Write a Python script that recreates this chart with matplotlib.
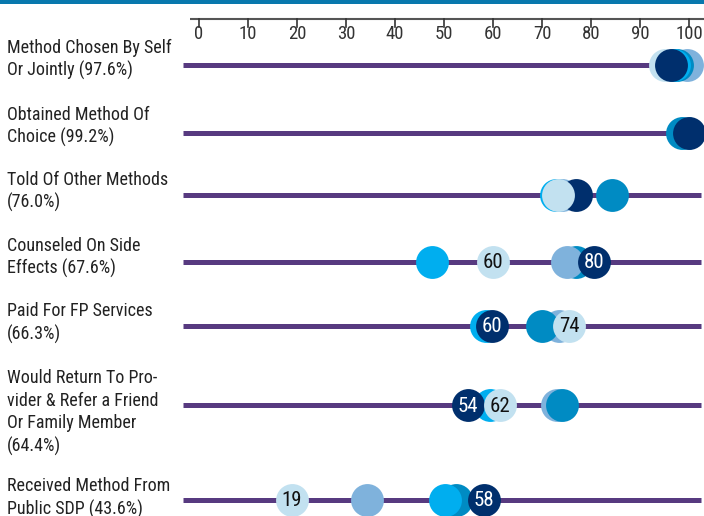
import numpy as np
import matplotlib.pyplot as plt

rows = ['Method Chosen By Self\nOr Jointly (97.6%)',
        'Obtained Method Of\nChoice (99.2%)',
        'Told Of Other Methods\n(76.0%)',
        'Counseled On Side\nEffects (67.6%)',
        'Paid For FP Services\n(66.3%)',
        'Would Return To Pro-\nvider & Refer a Friend\nOr Family Member\n(64.4%)',
        'Received Method From\nPublic SDP (43.6%)']

light = [95.0, 99.0, 73.3, 60.0, 75.5, 61.5, 19.0]
sky = [97.0, 99.5, 72.8, 47.5, 58.6, 59.3, 50.2]
medium = [97.5, 98.6, 84.3, 77.0, 70.0, 74.0, 52.5]
steel = [99.6, 99.3, 74.0, 75.0, 73.5, 73.0, 34.3]
navy = [96.3, 100.0, 77.0, 80.7, 59.8, 54.8, 58.2]

light_lbl = [None, None, None, '60', '74', '62', '19']
navy_lbl = [None, None, None, '80', '60', '54', '58']

ticks = np.arange(0, 101, 10)

# layout (pixel rows)
row_y = [65, 133, 195, 262, 326, 405, 500]
text_y = [59.5, 126.5, 191.5, 257.5, 323, 412.5, 498]
order = [['steel', 'medium', 'sky', 'light', 'navy'],
         ['steel', 'sky', 'light', 'medium', 'navy'],
         ['steel', 'sky', 'navy', 'light', 'medium'],
         ['sky', 'medium', 'steel', 'navy', 'light'],
         ['steel', 'sky', 'navy', 'medium', 'light'],
         ['steel', 'medium', 'sky', 'navy', 'light'],
         ['medium', 'steel', 'sky', 'navy', 'light']]

series = {'light': light, 'sky': sky, 'medium': medium, 'steel': steel, 'navy': navy}
colors = {'light': '#c2e1f0', 'sky': '#00aeef', 'medium': '#008bc3',
          'steel': '#7fb2dc', 'navy': '#002f6d'}

plt.rcParams['font.family'] = ['Roboto Condensed', 'DejaVu Sans']

fig = plt.figure(figsize=(7.04, 5.16), dpi=100)
ax = fig.add_axes([0, 0, 1, 1])
ppu = 4.9
ax.set_xlim(-199 / ppu, (704 - 199) / ppu)
ax.set_ylim(516, 0)
ax.axis('off')

# top bar
ax.axhspan(0, 4, color='#0878ad', lw=0)

# top axis
ax.plot([-9 / ppu, 103], [19, 19], color='#555555', lw=1.5, solid_capstyle='butt')
for t in ticks:
    ax.plot([t, t], [19, 27], color='#333333', lw=1.2)
    ax.text(t, 34, str(t), ha='center', va='center', fontsize=13.5, color='#333333')

for i, name in enumerate(rows):
    y = row_y[i]
    ax.plot([-16 / ppu, 102.5], [y, y], color='#573a80', lw=3.6,
            solid_capstyle='butt', zorder=1)
    ax.text(-192 / ppu, text_y[i], name, ha='left', va='center', fontsize=13,
            color='#222222', linespacing=1.3)
    for k, s in enumerate(order[i]):
        ax.scatter(series[s][i], y, s=560, color=colors[s], lw=0, zorder=2 + k)
    if light_lbl[i]:
        ax.text(light[i], y + 1, light_lbl[i], ha='center', va='center',
                fontsize=15, color='#111111', zorder=20)
    if navy_lbl[i]:
        ax.text(navy[i], y + 1, navy_lbl[i], ha='center', va='center',
                fontsize=15, color='white', zorder=20)

fig.savefig('out.png', dpi=100)
